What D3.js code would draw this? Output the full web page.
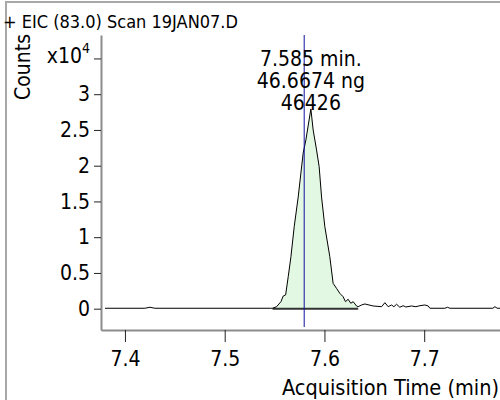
<!DOCTYPE html>
<html>
<head>
<meta charset="utf-8">
<script src="https://cdn.jsdelivr.net/npm/d3@7"></script>
<style>
  body { margin: 0; background: #fff; }
</style>
</head>
<body>
<svg id="svg-eic"></svg>
<script>
// chromatogram trace (min, counts)
const times = [7.380, 7.420, 7.4251, 7.430, 7.546, 7.5480, 7.5520, 7.5564, 7.5587, 7.5611,
  7.5637, 7.5664, 7.5697, 7.5737, 7.5764, 7.5787, 7.5814, 7.5864, 7.5887, 7.5921,
  7.5947, 7.5971, 7.6004, 7.6054, 7.6087, 7.6121, 7.6154, 7.6187, 7.6211, 7.6237,
  7.6264, 7.6288, 7.6322, 7.6338, 7.6372, 7.6405, 7.6488, 7.6573, 7.6606, 7.6639,
  7.6673, 7.6696, 7.6723, 7.6756, 7.6789, 7.6816, 7.6873, 7.6917, 7.6957, 7.7007,
  7.7040, 7.7057, 7.7207, 7.7234, 7.7257, 7.7688, 7.7709, 7.7732, 7.776];
const counts = [60, 60, 200, 60, 60, 60, 280, 980, 1780, 1920,
  4480, 7270, 11470, 15630, 18980, 21780, 23600, 27940, 25000, 22200,
  19870, 15630, 11470, 7270, 3550, 2850, 2150, 1680, 980, 1320,
  760, 980, 380, 280, 520, 660, 380, 280, 840, 280,
  520, 280, 620, 200, 420, 240, 380, 280, 420, 520,
  380, 60, 60, 200, 60, 60, 280, 60, 60];

const xTicks = [7.4, 7.5, 7.6, 7.7];
const yTicks = [0, 5000, 10000, 15000, 20000, 25000, 30000, 35000];
const yTickLabels = ['0', '0.5', '1', '1.5', '2', '2.5', '3', ''];

const peakStart = 7.548;   // integration limits
const peakEnd = 7.6338;
const peakTime = 7.5864;
const peakCounts = 27940;
const markerTime = 7.5797; // blue line
const peakLabel = ['7.585 min.', '46.6674 ng', '46426'];

const title = '+ EIC (83.0) Scan 19JAN07.D';
const xTitle = 'Acquisition Time (min)';
const yTitle = 'Counts';

const width = 500;
const height = 400;
const FONT = "'DejaVu Sans Condensed', 'DejaVu Sans', sans-serif";

const svg = d3.select('#svg-eic')
  .attr('width', width)
  .attr('height', height)
  .style('display', 'block')
  .style('font-family', FONT)
  .style('font-stretch', 'condensed');

const x = d3.scaleLinear().domain([7.376, 7.776]).range([101, 500]);
const y = d3.scaleLinear().domain([-2980, 38280]).range([330, 35]);

// outer frame
svg.append('rect')
  .attr('x', 6)
  .attr('y', 2)
  .attr('width', 520)
  .attr('height', 420)
  .style('fill', 'none')
  .style('stroke', '#a8a8a8')
  .style('stroke-width', 2);

const pts = times.map((t, i) => [t, counts[i]]);

// integrated peak
const inPeak = pts.filter(d => d[0] >= peakStart && d[0] <= peakEnd);
svg.append('path')
  .datum(inPeak)
  .attr('d', d3.area().x(d => x(d[0])).y0(y(0)).y1(d => y(d[1])))
  .style('fill', '#e2f8e2')
  .style('stroke', 'none');

svg.append('line')
  .attr('x1', x(peakStart))
  .attr('x2', x(peakEnd))
  .attr('y1', y(0))
  .attr('y2', y(0))
  .style('stroke', '#333')
  .style('stroke-width', 2);

// trace
svg.append('path')
  .datum(pts)
  .attr('d', d3.line().x(d => x(d[0])).y(d => y(d[1])))
  .style('fill', 'none')
  .style('stroke', '#000')
  .style('stroke-width', 1);

// retention time marker
svg.append('line')
  .attr('x1', x(markerTime))
  .attr('x2', x(markerTime))
  .attr('y1', y(38280))
  .attr('y2', y(-2560))
  .style('stroke', '#1010a0')
  .style('stroke-width', 1);

// axes
const xAxis = svg.append('g')
  .attr('transform', `translate(0,${y(-2980)})`)
  .call(d3.axisBottom(x).tickValues(xTicks).tickSize(12).tickSizeOuter(0).tickPadding(9)
    .tickFormat(d3.format('.1f')));

const yAxis = svg.append('g')
  .attr('transform', `translate(${x(7.376)},0)`)
  .call(d3.axisLeft(y).tickValues(yTicks).tickSize(7).tickSizeOuter(0).tickPadding(4)
    .tickFormat((d, i) => yTickLabels[i]));

[xAxis, yAxis].forEach(g => {
  g.select('.domain').style('stroke', '#8c8c8c').style('stroke-width', 2);
  g.selectAll('.tick line').style('stroke', '#222');
  g.selectAll('.tick text')
    .style('fill', '#000')
    .style('font-family', FONT)
    .style('font-size', '21px');
});

// x10^4 on the top tick
const exp = svg.append('text')
  .attr('x', x(7.376) - 11)
  .attr('y', y(35000) + 5)
  .attr('text-anchor', 'end')
  .style('font-size', '21px');
exp.append('tspan').text('x10');
exp.append('tspan')
  .attr('dy', -10)
  .style('font-size', '14px')
  .text('4');

// titles
svg.append('text')
  .attr('x', 3)
  .attr('y', 28)
  .style('font-size', '18px')
  .text(title);

svg.append('text')
  .attr('transform', `translate(30,67) rotate(-90)`)
  .attr('text-anchor', 'middle')
  .style('font-size', '21px')
  .text(yTitle);

svg.append('text')
  .attr('x', 499)
  .attr('y', 395)
  .attr('text-anchor', 'end')
  .style('font-size', '21.5px')
  .text(xTitle);

// peak annotation
svg.append('g')
  .selectAll('text')
  .data(peakLabel)
  .join('text')
  .attr('x', x(peakTime))
  .attr('y', (d, i) => y(peakCounts) + 1 - (peakLabel.length - 1 - i) * 22)
  .attr('text-anchor', 'middle')
  .style('font-size', '21px')
  .text(d => d);
</script>
</body>
</html>
